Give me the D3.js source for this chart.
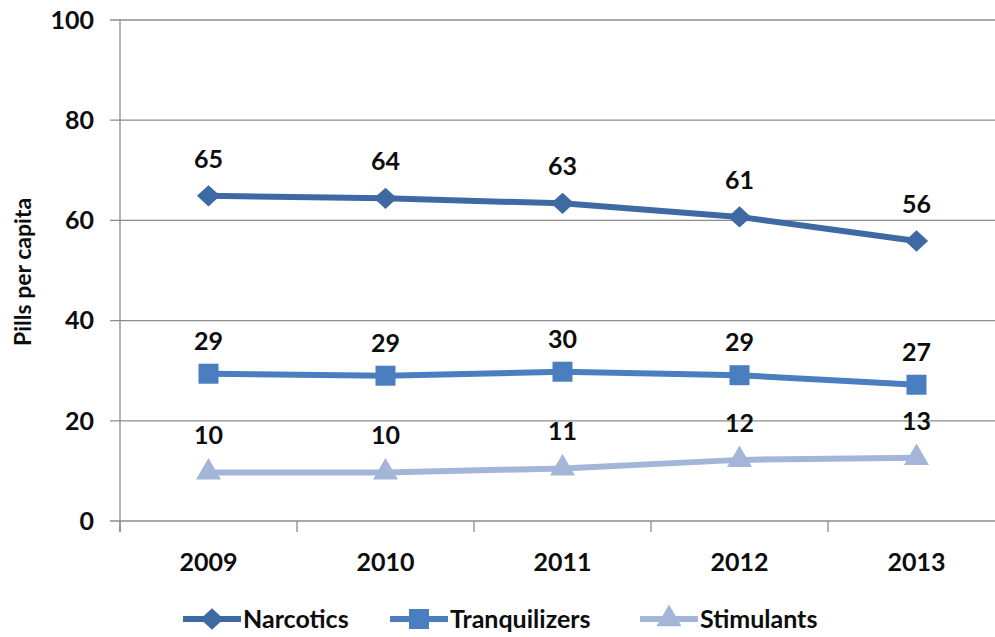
<!DOCTYPE html>
<html><head><meta charset="utf-8">
<script src="https://cdn.jsdelivr.net/npm/d3@7"></script>
<style>body{margin:0;background:#fff}svg{display:block}text{font-family:Lato,"Open Sans",sans-serif;font-weight:bold;fill:#0d0d0d}</style>
</head><body>
<svg id="c" width="995" height="637"></svg>
<script>
const years = ["2009","2010","2011","2012","2013"];
const narcotics = [64.9, 64.4, 63.4, 60.7, 55.9];
const tranquilizers = [29.4, 29.0, 29.8, 29.1, 27.2];
const stimulants = [9.7, 9.7, 10.5, 12.2, 12.6];
const narcoticsLabels = ["65","64","63","61","56"];
const tranquilizersLabels = ["29","29","30","29","27"];
const stimulantsLabels = ["10","10","11","12","13"];
const yTicks = [0,20,40,60,80,100];
const seriesNames = ["Narcotics","Tranquilizers","Stimulants"];

const diamond = {draw(ctx,size){const r=Math.sqrt(size/2);ctx.moveTo(0,-r);ctx.lineTo(r*1.08,0);ctx.lineTo(0,r);ctx.lineTo(-r*1.08,0);ctx.closePath();}};

const series = [
  {name:seriesNames[0], values:narcotics, labels:narcoticsLabels, color:"#3E69A3", sym:diamond, size:230, off:28},
  {name:seriesNames[1], values:tranquilizers, labels:tranquilizersLabels, color:"#4A7EBF", sym:d3.symbolSquare, size:400, off:24},
  {name:seriesNames[2], values:stimulants, labels:stimulantsLabels, color:"#A3B6D8", sym:d3.symbolTriangle, size:270, off:28}
];

const svg = d3.select("#c");
const x = d3.scaleBand().domain(years).range([120, 1005]);
const y = d3.scaleLinear().domain([0,100]).range([521, 20]);

svg.append("g").selectAll("line").data(yTicks).join("line")
  .attr("x1",110).attr("x2",995).attr("y1",d=>y(d)).attr("y2",d=>y(d))
  .attr("stroke","#8c8c8c").attr("stroke-width",1.3);
svg.append("line").attr("x1",120).attr("x2",120).attr("y1",y(100)).attr("y2",y(0)+11)
  .attr("stroke","#8c8c8c").attr("stroke-width",1.3);
const bounds = years.map(d=>x(d)).concat([x(years[years.length-1])+x.bandwidth()]);
svg.append("g").selectAll("line").data(bounds).join("line")
  .attr("x1",d=>d).attr("x2",d=>d).attr("y1",y(0)).attr("y2",y(0)+11)
  .attr("stroke","#8c8c8c").attr("stroke-width",1.3);
svg.append("g").selectAll("text").data(yTicks).join("text")
  .attr("x",94).attr("y",d=>y(d)).attr("dy","0.35em").attr("text-anchor","end")
  .style("font-size","25px").text(d=>d);
svg.append("g").selectAll("text").data(years).join("text")
  .attr("x",d=>x(d)+x.bandwidth()/2).attr("y",571).attr("text-anchor","middle")
  .style("font-size","25px").text(d=>d);
svg.append("text").attr("transform","translate(31,272) rotate(-90)").attr("text-anchor","middle")
  .style("font-size","23px").text("Pills per capita");

const line = d3.line().x((d,i)=>x(years[i])+x.bandwidth()/2).y(d=>y(d));
series.forEach(s=>{
  svg.append("path").datum(s.values).attr("d",line).attr("fill","none")
    .attr("stroke",s.color).attr("stroke-width",6);
  svg.append("g").selectAll("path").data(s.values).join("path")
    .attr("d",d3.symbol().type(s.sym).size(s.size))
    .attr("transform",(d,i)=>`translate(${x(years[i])+x.bandwidth()/2},${y(d)})`)
    .attr("fill",s.color);
  svg.append("g").selectAll("text").data(s.values).join("text")
    .attr("x",(d,i)=>x(years[i])+x.bandwidth()/2).attr("y",d=>y(d)-s.off)
    .attr("text-anchor","middle").style("font-size","25px")
    .text((d,i)=>s.labels[i]);
});

const legX = [183, 390, 640];
series.forEach((s,i)=>{
  const g = svg.append("g").attr("transform",`translate(${legX[i]},619)`);
  g.append("line").attr("x1",0).attr("x2",58).attr("y1",0).attr("y2",0)
    .attr("stroke",s.color).attr("stroke-width",6);
  g.append("path").attr("d",d3.symbol().type(s.sym).size(s.size)).attr("transform","translate(29,0)").attr("fill",s.color);
  g.append("text").attr("x",60).attr("y",0).attr("dy","0.36em").style("font-size","25px").text(s.name);
});
</script>
</body></html>
